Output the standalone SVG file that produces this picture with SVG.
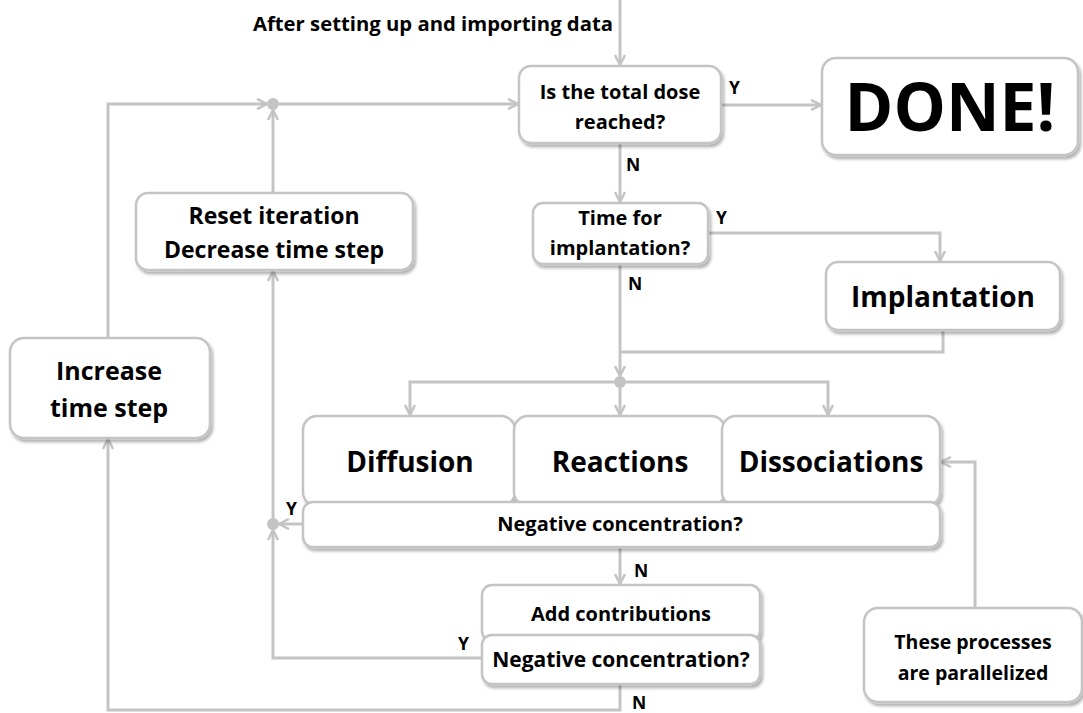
<svg xmlns="http://www.w3.org/2000/svg" width="1083" height="713" viewBox="0 0 1083 713">
<style>
.box{fill:#fff;stroke:#c4c4c4;stroke-width:2.5;filter:url(#sh)}
.t{font-family:"Open Sans","Liberation Sans",sans-serif;font-weight:bold;fill:#000;text-anchor:middle}
.lbl{font-family:"Open Sans","Liberation Sans",sans-serif;font-weight:bold;fill:#000;font-size:17.5px}
.c{fill:none;stroke:#c4c4c4;stroke-width:3}
.a{marker-end:url(#ar)}
</style>
<defs>
<filter id="sh" x="-10%" y="-10%" width="120%" height="130%">
<feDropShadow dx="2" dy="3" stdDeviation="1.5" flood-color="#000" flood-opacity="0.3"/>
</filter>
<marker id="ar" viewBox="0 0 12 12" refX="11" refY="6" markerWidth="12" markerHeight="12" markerUnits="userSpaceOnUse" orient="auto">
<path d="M1,1 L11,6 L1,11" fill="none" stroke="#c4c4c4" stroke-width="2.5"/>
</marker>
</defs>
<rect width="1083" height="713" fill="#fff"/>
<text class="lbl" x="433" y="31" text-anchor="middle" style="font-size:20.3px">After setting up and importing data</text>
<g id="connectors">
<path class="c a" d="M620,0 V65"/>
<path class="c a" d="M721,105 H821"/>
<path class="c a" d="M620,144 V202"/>
<path class="c a" d="M709,233 H940 V261"/>
<path class="c a" d="M620,265 V376"/>
<path class="c" d="M943,331 V352 H620"/>
<path class="c a" d="M620,382 V415"/>
<path class="c a" d="M620,382 H410 V415"/>
<path class="c a" d="M620,382 H828 V415"/>
<path class="c a" d="M302,524 H279"/>
<path class="c a" d="M273,524 V271"/>
<path class="c a" d="M481,658 H273 V530"/>
<path class="c a" d="M273,192 V110"/>
<path class="c a" d="M279,104 H518"/>
<path class="c a" d="M108,337 V104 H267"/>
<path class="c a" d="M620,684 V710 H108 V439"/>
<path class="c a" d="M620,548 V584"/>
<path class="c a" d="M975,607 V462 H941"/>
<circle cx="273" cy="104" r="6" fill="#c4c4c4"/>
<circle cx="620" cy="382" r="6" fill="#c4c4c4"/>
<circle cx="273" cy="524" r="6" fill="#c4c4c4"/>
</g>
<g id="labels">
<text class="lbl" x="729" y="94">Y</text>
<text class="lbl" x="626" y="171">N</text>
<text class="lbl" x="716" y="224">Y</text>
<text class="lbl" x="628" y="290">N</text>
<text class="lbl" x="286" y="515">Y</text>
<text class="lbl" x="634" y="577">N</text>
<text class="lbl" x="458" y="650">Y</text>
<text class="lbl" x="632" y="709">N</text>
</g>
<g id="dose">
<rect class="box" x="519" y="66" width="202" height="77" rx="12"/>
<text class="t" x="620" y="99" font-size="20">Is the total dose</text>
<text class="t" x="620" y="129" font-size="20">reached?</text>
</g>
<g id="done">
<rect class="box" x="822" y="58" width="256" height="97" rx="14"/>
<text class="t" x="950" y="131" font-size="66">DONE!</text>
</g>
<g id="timeimpl">
<rect class="box" x="533" y="203" width="175" height="61" rx="10"/>
<text class="t" x="620" y="225" font-size="20">Time for</text>
<text class="t" x="620" y="255" font-size="20">implantation?</text>
</g>
<g id="implantation">
<rect class="box" x="826" y="262" width="234" height="68" rx="12"/>
<text class="t" x="943" y="307" font-size="28">Implantation</text>
</g>
<g id="reset">
<rect class="box" x="136" y="193" width="277" height="77" rx="12"/>
<text class="t" x="274" y="224" font-size="23">Reset iteration</text>
<text class="t" x="274" y="258" font-size="23">Decrease time step</text>
</g>
<g id="increase">
<rect class="box" x="10" y="338" width="200" height="100" rx="14"/>
<text class="t" x="109" y="380" font-size="25">Increase</text>
<text class="t" x="109" y="417" font-size="25">time step</text>
</g>
<g id="diffusion">
<rect class="box" x="303" y="416" width="212" height="90" rx="14"/>
<text class="t" x="410" y="472" font-size="28">Diffusion</text>
</g>
<g id="reactions">
<rect class="box" x="514" y="416" width="211" height="90" rx="14"/>
<text class="t" x="620" y="472" font-size="28">Reactions</text>
</g>
<g id="dissociations">
<rect class="box" x="722" y="416" width="218" height="90" rx="14"/>
<text class="t" x="831" y="472" font-size="28">Dissociations</text>
</g>
<g id="negconc1">
<rect class="box" x="303" y="502" width="637" height="45" rx="10"/>
<text class="t" x="620" y="531" font-size="20">Negative concentration?</text>
</g>
<g id="addcontrib">
<rect class="box" x="482" y="585" width="278" height="56" rx="10"/>
<text class="t" x="621" y="621" font-size="20">Add contributions</text>
</g>
<g id="negconc2">
<rect class="box" x="482" y="635" width="278" height="49" rx="10"/>
<text class="t" x="621" y="667" font-size="21">Negative concentration?</text>
</g>
<g id="parallel">
<rect class="box" x="864" y="608" width="218" height="94" rx="14"/>
<text class="t" x="973" y="649" font-size="19.5">These processes</text>
<text class="t" x="973" y="680" font-size="19.5">are parallelized</text>
</g>
</svg>
